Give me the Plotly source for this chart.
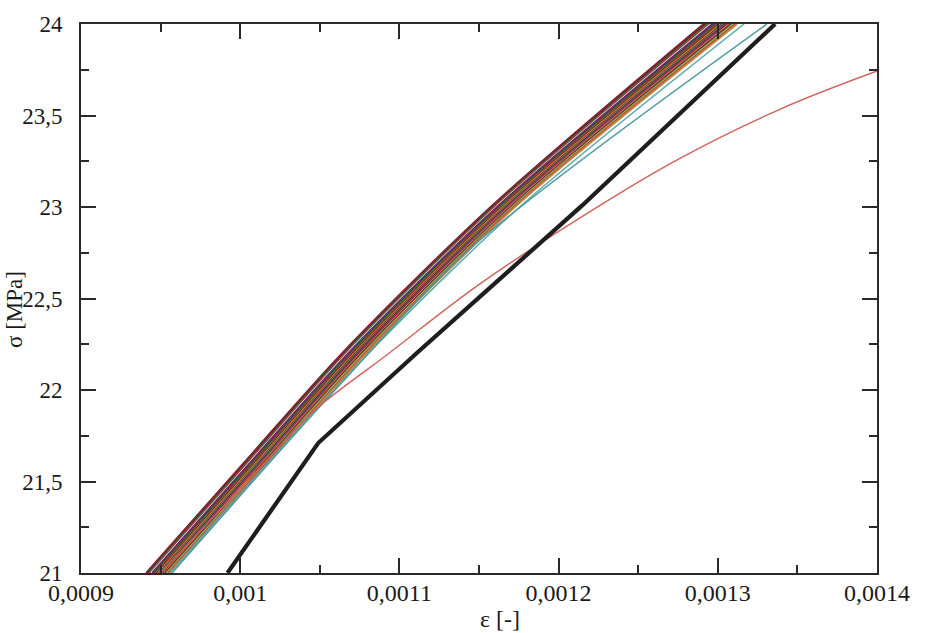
import plotly.graph_objects as go

# ---------------- data (strain in micro-strain, stress in MPa) ----------------
bundle_sigma = [21.0, 21.6, 22.2, 23.0, 24.0]
bundle_eps = [
    [941.0, 1002.2, 1064.0, 1157.4, 1291.2],
    [941.6, 1002.9, 1064.7, 1158.2, 1292.2],
    [942.2, 1003.5, 1065.3, 1158.8, 1293.0],
    [942.9, 1004.2, 1066.0, 1159.5, 1294.0],
    [943.5, 1004.8, 1066.6, 1160.1, 1294.9],
    [944.1, 1005.5, 1067.2, 1160.8, 1295.8],
    [944.8, 1006.1, 1067.9, 1161.4, 1296.7],
    [945.4, 1006.8, 1068.5, 1162.1, 1297.6],
    [946.0, 1007.4, 1069.2, 1162.7, 1298.5],
    [946.7, 1008.1, 1069.8, 1163.4, 1299.4],
    [947.3, 1008.7, 1070.5, 1164.0, 1300.3],
    [947.9, 1009.4, 1071.1, 1164.7, 1301.2],
    [948.6, 1010.0, 1071.8, 1165.3, 1302.1],
    [949.2, 1010.7, 1072.4, 1166.0, 1303.0],
    [949.8, 1011.3, 1073.1, 1166.6, 1303.9],
    [950.5, 1012.0, 1073.7, 1167.3, 1304.8],
    [951.1, 1012.6, 1074.4, 1167.9, 1305.7],
    [951.7, 1013.3, 1075.0, 1168.6, 1306.6],
    [952.4, 1013.9, 1075.7, 1169.2, 1307.5],
    [953.0, 1014.6, 1076.3, 1169.9, 1308.4],
    [953.6, 1015.2, 1077.0, 1170.5, 1309.3],
    [954.3, 1015.9, 1077.6, 1171.2, 1310.2],
    [954.9, 1016.5, 1078.3, 1171.8, 1311.1],
    [955.5, 1017.2, 1078.9, 1172.5, 1312.0],
]
bundle_colors = [
    "#7a1f2b", "#8e2a34", "#6a1a28", "#3f8f4f", "#8b1a2a", "#f2f2f2",
    "#6e1a30", "#3a4fa8", "#7d2230", "#2f7a3a", "#a0402f", "#7a2030",
    "#c8a830", "#8a2432", "#4f9a50", "#702030", "#7b3fa0", "#942838",
    "#e0902a", "#6f1c2c", "#2a7a6a", "#d8c040", "#a83a4a", "#c0803a",
]

cyan1_sigma = [21.0, 21.975, 22.779, 24.0]
cyan1_eps = [957.2, 1057.0, 1145.3, 1330.9]
cyan2_sigma = [21.0, 22.2, 23.0, 24.0]
cyan2_eps = [956.0, 1080.5, 1175.5, 1316.5]

red_sigma = [21.0, 21.616, 21.868, 22.205, 22.580, 23.009, 23.266, 23.534, 23.743]
red_eps = [950.0, 1016.8, 1043.8, 1094.1, 1150.6, 1226.0, 1276.2, 1339.0, 1400.0]

black_sigma = [21.0, 21.71, 22.21, 23.01, 24.0]
black_eps = [992.0, 1049.0, 1112.0, 1215.0, 1336.0]

x_tick_vals = [0.0009, 0.0010, 0.0011, 0.0012, 0.0013, 0.0014]
x_tick_text = ["0,0009", "0,001", "0,0011", "0,0012", "0,0013", "0,0014"]
x_minor_vals = [0.00095, 0.00105, 0.00115, 0.00125, 0.00135]
y_tick_vals = [21, 21.5, 22, 22.5, 23, 23.5, 24]
y_tick_text = ["21", "21,5", "22", "22,5", "23", "23,5", "24"]
y_minor_vals = [21.25, 21.75, 22.25, 22.75, 23.25, 23.75]

MICRO = 1e-6

fig = go.Figure()
for eps, col in zip(bundle_eps, bundle_colors):
    fig.add_trace(go.Scatter(x=[e * MICRO for e in eps], y=bundle_sigma, mode="lines",
                             line=dict(color=col, width=2.2, shape="spline", smoothing=0.8),
                             showlegend=False))
fig.add_trace(go.Scatter(x=[e * MICRO for e in cyan2_eps], y=cyan2_sigma, mode="lines",
                         line=dict(color="#5aaab0", width=1.5, shape="spline", smoothing=0.8),
                         showlegend=False))
fig.add_trace(go.Scatter(x=[e * MICRO for e in cyan1_eps], y=cyan1_sigma, mode="lines",
                         line=dict(color="#4a9aa0", width=1.5, shape="spline", smoothing=0.8),
                         showlegend=False))
fig.add_trace(go.Scatter(x=[e * MICRO for e in red_eps], y=red_sigma, mode="lines",
                         line=dict(color="#d0605a", width=1.4, shape="spline"), showlegend=False))
fig.add_trace(go.Scatter(x=[e * MICRO for e in black_eps], y=black_sigma, mode="lines",
                         line=dict(color="#1e1e1e", width=4.2), showlegend=False))

font_family = "Liberation Serif, Times New Roman, serif"
axis_common = dict(showline=True, linewidth=2, linecolor="#2a2a2a", mirror="ticks",
                   ticks="inside", ticklen=15, tickwidth=1.6, tickcolor="#2a2a2a",
                   showgrid=False, zeroline=False)

fig.update_xaxes(range=[0.0009, 0.0014], tickmode="array", tickvals=x_tick_vals,
                 ticktext=x_tick_text, ticklabelstandoff=-3,
                 tickfont=dict(family=font_family, size=24, color="#1a1a1a"),
                 minor=dict(ticks="inside", ticklen=8, tickwidth=1.6, tickcolor="#2a2a2a",
                            tickmode="array", tickvals=x_minor_vals, showgrid=False),
                 **axis_common)
fig.update_yaxes(range=[21, 24], tickmode="array", tickvals=y_tick_vals,
                 ticktext=y_tick_text, ticklabelstandoff=12,
                 tickfont=dict(family=font_family, size=23, color="#1a1a1a"),
                 minor=dict(ticks="inside", ticklen=8, tickwidth=1.6, tickcolor="#2a2a2a",
                            tickmode="array", tickvals=y_minor_vals, showgrid=False),
                 **axis_common)

fig.update_layout(
    width=925, height=633,
    margin=dict(l=81, r=48, t=15, b=60),
    paper_bgcolor="white", plot_bgcolor="white",
    font=dict(family=font_family, color="#1a1a1a"),
    annotations=[
        dict(text="σ [MPa]", xref="paper", yref="paper", x=-0.0835, y=0.48,
             xanchor="center", yanchor="middle", textangle=-90, showarrow=False,
             font=dict(family=font_family, size=23, color="#1a1a1a")),
        dict(text="ε [-]", xref="paper", yref="paper", x=0.526, y=-0.084,
             xanchor="center", yanchor="middle", showarrow=False,
             font=dict(family=font_family, size=24, color="#1a1a1a")),
    ],
)

fig.write_html("out.html")
